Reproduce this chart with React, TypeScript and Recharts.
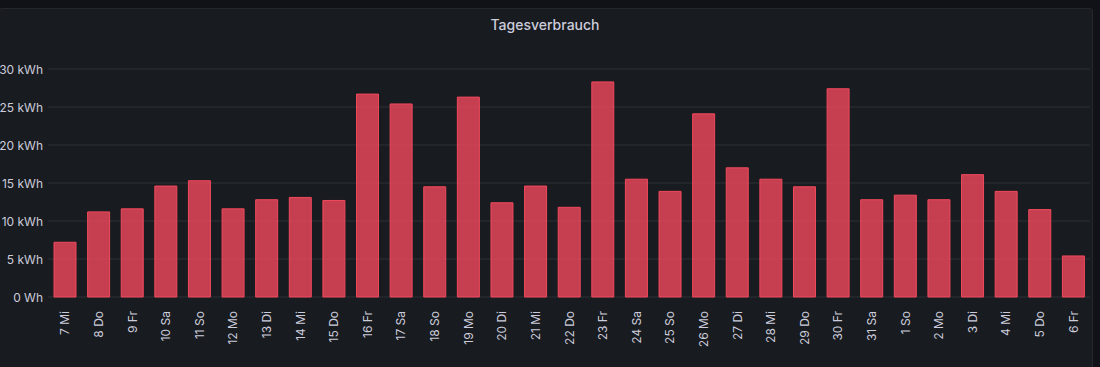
import { BarChart, Bar, XAxis, YAxis, CartesianGrid } from 'recharts';

const days = [
  '7 Mi', '8 Do', '9 Fr', '10 Sa', '11 So', '12 Mo', '13 Di', '14 Mi', '15 Do', '16 Fr',
  '17 Sa', '18 So', '19 Mo', '20 Di', '21 Mi', '22 Do', '23 Fr', '24 Sa', '25 So', '26 Mo',
  '27 Di', '28 Mi', '29 Do', '30 Fr', '31 Sa', '1 So', '2 Mo', '3 Di', '4 Mi', '5 Do', '6 Fr',
];

const kwh = [
  7.2, 11.2, 11.6, 14.6, 15.3, 11.6, 12.8, 13.1, 12.7, 26.7,
  25.4, 14.5, 26.3, 12.4, 14.6, 11.8, 28.3, 15.5, 13.9, 24.1,
  17.0, 15.5, 14.5, 27.4, 12.8, 13.4, 12.8, 16.1, 13.9, 11.5, 5.4,
];

const yTicks = [0, 5, 10, 15, 20, 25, 30];

const data = days.map((day, i) => ({ day, value: kwh[i] }));

const TEXT = '#ccccdc';
const FONT = 'Inter, "Noto Sans", sans-serif';

function DayTick(props: any) {
  const { x, y, payload } = props;
  return (
    <text
      x={0}
      y={0}
      transform={`translate(${x},${y + 6}) rotate(-90)`}
      textAnchor="end"
      dominantBaseline="central"
      fill={TEXT}
      fontSize={12}
      fontFamily={FONT}
    >
      {payload.value}
    </text>
  );
}

function EnergyTick(props: any) {
  const { y, payload } = props;
  const v = payload.value;
  return (
    <text x={43} y={y} textAnchor="end" dominantBaseline="central" fill={TEXT} fontSize={12} fontFamily={FONT}>
      {v === 0 ? '0 Wh' : `${v} kWh`}
    </text>
  );
}

export default function App() {
  return (
    <div style={{ position: 'absolute', left: 0, top: 0, width: 1100, height: 367, background: '#111217', overflow: 'hidden' }}>
      <div
        style={{
          position: 'absolute', left: -1, top: 8, width: 1094, height: 370,
          background: '#181b1f', border: '1px solid #25272c', borderRadius: 3, boxSizing: 'border-box',
        }}
      />
      <div
        style={{
          position: 'absolute', left: 0, top: 16, width: 1090, textAlign: 'center',
          color: TEXT, fontFamily: FONT, fontSize: 14, fontWeight: 500,
        }}
      >
        Tagesverbrauch
      </div>
      <div style={{ position: 'absolute', left: 0, top: 0 }}>
        <BarChart width={1100} height={367} data={data} margin={{ top: 69, right: 10, bottom: 0, left: 0 }}>
          <CartesianGrid vertical={false} stroke="rgba(204,204,220,0.12)" />
          <XAxis
            dataKey="day"
            height={70}
            axisLine={false}
            tickLine={false}
            interval={0}
            tick={<DayTick />}
          />
          <YAxis
            width={48}
            domain={[0, 30]}
            ticks={yTicks}
            axisLine={false}
            tickLine={false}
            tick={<EnergyTick />}
          />
          <Bar
            dataKey="value"
            barSize={22}
            fill="#f2495c"
            fillOpacity={0.8}
            stroke="#f2495c"
            strokeWidth={1}
            isAnimationActive={false}
          />
        </BarChart>
      </div>
    </div>
  );
}
